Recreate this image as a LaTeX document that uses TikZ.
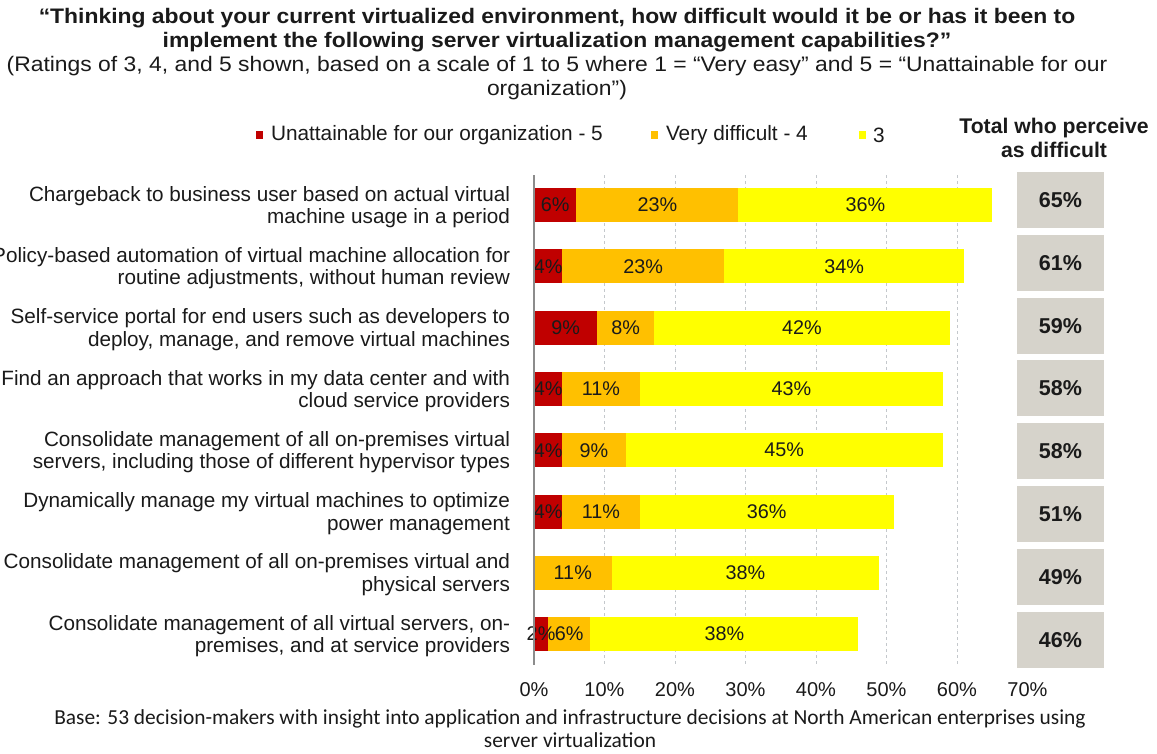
\documentclass[tikz,border=0pt]{standalone}
\usepackage{fontspec}
\setmainfont{Liberation Sans}
\newfontfamily\widefont[FakeStretch=1.09]{Liberation Sans}
\newfontfamily\basefont{Carlito}
\definecolor{cRed}{HTML}{C00000}
\definecolor{cOrange}{HTML}{FFC000}
\definecolor{cYellow}{HTML}{FFFF00}
\definecolor{cBox}{HTML}{D6D3CB}
\definecolor{cGrid}{HTML}{C4C8CC}
\definecolor{cAxis}{HTML}{8C8C8C}
\definecolor{cText}{HTML}{1A1A1A}
\begin{document}
\begin{tikzpicture}[x=1pt,y=-1pt,
  every node/.style={inner sep=0pt,outer sep=0pt,text=cText},
  titlestyle/.style={font=\widefont\fontsize{21}{24}\selectfont\bfseries,align=center},
  substyle/.style={font=\widefont\fontsize{21}{23.5}\selectfont,align=center},
  catlabel/.style={font=\fontsize{20.7}{22.5}\selectfont,align=right,anchor=east},
  val/.style={font=\fontsize{19.8}{20}\selectfont},
  tick/.style={font=\fontsize{20}{20}\selectfont},
  totalbox/.style={fill=cBox,minimum width=87pt,minimum height=56pt,font=\fontsize{21.5}{22}\selectfont\bfseries},
  legtext/.style={font=\fontsize{20.8}{20}\selectfont,anchor=west},
  gridline/.style={cGrid,dash pattern=on 3pt off 3pt,line width=0.8pt},
  basestyle/.style={font=\basefont\fontsize{21.4}{23}\selectfont,align=center}]
\useasboundingbox[fill=white] (0,0) rectangle (1157,753);
\def\xo{534}
\def\sx{7.05}
% title
\node[titlestyle] (title) at (557,30) {“Thinking about your current virtualized environment, how difficult would it be or has it been to\\implement the following server virtualization management capabilities?”};
\node[substyle] (sub) at (557,78) {(Ratings of 3, 4, and 5 shown, based on a scale of 1 to 5 where 1 = “Very easy” and 5 = “Unattainable for our\\organization”)};
% legend
\fill[cRed] (256,131) rectangle (263,139);
\node[legtext] (leg5) at (271,135) {Unattainable for our organization - 5};
\fill[cOrange] (651,131) rectangle (658,139);
\node[legtext] (leg4) at (666,135) {Very difficult - 4};
\fill[cYellow] (859,131) rectangle (866,139);
\node[legtext] (leg3) at (873,135) {3};
\node[font=\fontsize{21.2}{24}\selectfont\bfseries,align=center] (totalhead) at (1054,138) {Total who perceive\\as difficult};
% grid
\foreach \k in {1,...,6} {
  \draw[gridline] ({\xo+\k*10*\sx},175) -- ({\xo+\k*10*\sx},665);
}
% bars
\foreach \i/\r/\o/\y/\t/\lab in {
 1/6/23/36/65/{Chargeback to business user based on actual virtual\\machine usage in a period},
 2/4/23/34/61/{Policy-based automation of virtual machine allocation for\\routine adjustments, without human review},
 3/9/8/42/59/{Self-service portal for end users such as developers to\\deploy, manage, and remove virtual machines},
 4/4/11/43/58/{Find an approach that works in my data center and with\\cloud service providers},
 5/4/9/45/58/{Consolidate management of all on-premises virtual\\servers, including those of different hypervisor types},
 6/4/11/36/51/{Dynamically manage my virtual machines to optimize\\power management\hspace{14pt}},
 7/0/11/38/49/{Consolidate management of all on-premises virtual and\\physical servers},
 8/2/6/38/46/{Consolidate management of all virtual servers, on-\\premises, and at service providers}} {
  \pgfmathsetmacro\yc{205+61.3*(\i-1)}
  \pgfmathsetmacro\xa{\xo+\r*\sx}
  \pgfmathsetmacro\xb{\xo+(\r+\o)*\sx}
  \pgfmathsetmacro\xc{\xo+(\r+\o+\y)*\sx}
  \pgfmathsetmacro\yb{200+62.8*(\i-1)}
  \fill[cYellow] (\xb,\yc-17) rectangle (\xc,\yc+17);
  \fill[cOrange] (\xa,\yc-17) rectangle (\xb,\yc+17);
  \ifnum\r>0 \fill[cRed] (\xo,\yc-17) rectangle (\xa,\yc+17); \fi
  \node[catlabel] (cat\i) at (510,\yc+2) {\lab};
  \ifnum\r>0 \node[val] (r\i) at ({(\xo+\xa)/2},\yc) {\r\%}; \fi
  \node[val] (o\i) at ({(\xa+\xb)/2},\yc) {\o\%};
  \node[val] (y\i) at ({(\xb+\xc)/2},\yc) {\y\%};
  \node[totalbox] (tot\i) at (1060.5,\yb) {\t\%};
}
% axis
\draw[cAxis,line width=1.2pt] (\xo,175) -- (\xo,665);
\foreach \k in {0,...,7} {
  \node[tick] (tick\k) at ({\xo+\k*10*\sx},690) {\pgfmathtruncatemacro\v{\k*10}\v\%};
}
% base note
\node[basestyle] (base) at (570,729) {Base: 53 decision-makers with insight into application and infrastructure decisions at North American enterprises using\\server virtualization};
\end{tikzpicture}
\end{document}
